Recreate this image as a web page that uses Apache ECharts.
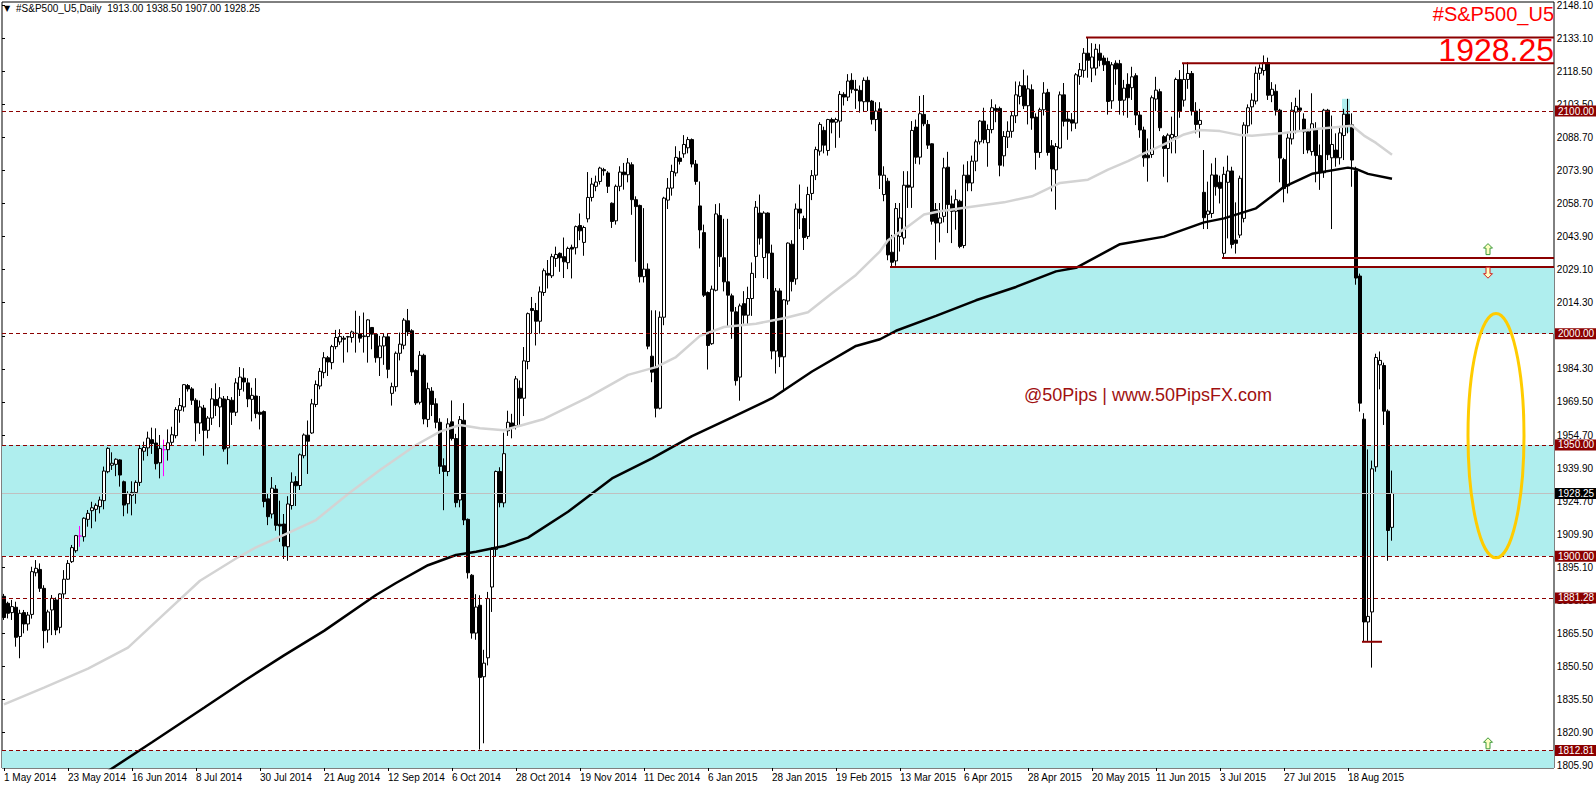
<!DOCTYPE html>
<html>
<head>
<meta charset="utf-8">
<title>#S&amp;P500_U5,Daily</title>
<script src="https://cdn.jsdelivr.net/npm/echarts@6.0.0/dist/echarts.min.js"></script>
<style>
  html, body { margin: 0; padding: 0; background: #fff; }
  #chart { width: 1596px; height: 786px; }
</style>
</head>
<body>
<div id="chart"></div>
<script>
// daily bars 1 May 2014 .. 2 Sep 2015
const opens = [
  1882.0,1878.9,1874.7,1877.1,1864.0,1874.7,1869.6,1873.9,1892.6,1894.1,
  1885.6,1866.9,1875.9,1880.4,1868.1,1883.1,1889.7,1897.6,1902.5,1909.1,
  1908.8,1916.6,1920.5,1921.1,1922.3,1925.0,1938.0,1940.9,1941.3,1943.3,
  1933.5,1923.6,1927.4,1928.7,1933.2,1947.2,1948.7,1952.4,1950.9,1942.0,
  1947.9,1947.9,1951.2,1954.2,1965.6,1967.1,1976.7,1975.2,1970.1,1959.9,
  1966.6,1956.6,1962.1,1970.4,1967.1,1970.7,1948.7,1970.1,1964.7,1975.0,
  1980.1,1977.9,1970.5,1972.0,1964.7,1965.0,1925.8,1919.0,1930.2,1914.4,
  1914.5,1904.3,1922.8,1933.6,1931.8,1945.2,1954.4,1955.4,1968.2,1976.5,
  1982.5,1989.2,1987.0,1994.2,1996.3,1998.0,1998.5,1998.3,2000.2,2000.0,
  1998.7,1998.7,2002.8,1999.8,1989.2,1994.5,1998.6,1973.2,1976.2,1991.2,
  1994.8,2005.8,2001.3,1983.5,1969.2,1990.3,1961.5,1974.2,1968.5,1960.2,
  1940.7,1938.1,1960.4,1952.9,1925.3,1961.1,1916.6,1891.5,1865.5,1878.0,
  1845.9,1854.4,1886.2,1903.1,1938.1,1924.0,1956.4,1959.9,1958.6,1975.5,
  1971.0,1987.5,2011.3,2010.4,2005.6,2018.5,2027.1,2026.0,2033.8,2036.1,
  2034.6,2031.9,2038.8,2038.6,2048.6,2041.0,2051.6,2061.2,2066.2,2068.4,
  2073.7,2072.2,2058.6,2050.7,2066.2,2072.6,2071.4,2075.9,2060.2,2057.6,
  2025.6,2029.0,1989.9,1984.5,1966.5,2007.4,2060.0,2065.4,2072.2,2078.9,
  2080.8,2083.5,2087.2,2076.2,2057.4,2045.4,2018.5,1995.5,2019.5,2053.1,
  2034.1,2023.3,2017.0,2009.8,1980.5,2013.5,2008.3,2015.8,2034.7,2054.2,
  2034.2,2054.2,2036.2,1992.2,2019.2,1989.6,2014.7,2040.2,2024.6,2056.0,
  2051.7,2043.7,2063.0,2071.2,2082.0,2091.3,2082.3,2096.2,2095.0,2095.5,
  2107.5,2106.3,2113.8,2109.8,2109.3,2104.2,2113.8,2104.5,2096.2,2101.0,
  2062.5,2068.5,2036.6,2032.7,2043.7,2043.0,2066.7,2065.8,2092.8,2079.3,
  2098.5,2094.0,2085.3,2055.7,2049.7,2052.7,2074.8,2058.3,2055.0,2059.5,
  2039.6,2071.2,2067.7,2077.5,2086.2,2095.5,2085.8,2091.7,2101.2,2101.2,
  2079.9,2088.3,2090.9,2097.9,2106.6,2111.4,2102.4,2109.6,2097.3,2081.4,
  2100.6,2108.4,2084.4,2073.6,2083.4,2107.3,2096.4,2096.1,2094.6,2115.6,
  2118.3,2126.0,2119.3,2119.3,2126.0,2123.8,2122.3,2104.6,2121.5,2121.3,
  2104.9,2112.0,2110.5,2115.9,2098.2,2091.5,2080.2,2080.5,2105.4,2108.7,
  2088.5,2083.2,2088.0,2088.5,2114.2,2104.9,2114.2,2116.9,2100.0,2094.0,
  2063.5,2053.6,2054.0,2071.3,2068.0,2036.1,2068.0,2073.1,2042.1,2044.3,
  2051.8,2093.4,2101.9,2104.5,2117.0,2118.2,2121.8,2107.1,2108.9,2100.4,
  2078.2,2066.4,2087.5,2099.6,2101.4,2096.4,2090.7,2081.8,2092.0,2080.0,
  2072.3,2100.4,2079.0,2082.5,2079.0,2089.0,2098.6,2093.8,2073.2,2025.9,
  1961.6,1870.5,1875.0,1940.2,1986.0,1985.7,1965.2,1913.0
];
const highs = [
  1883.1,1879.6,1880.4,1879.6,1876.0,1875.9,1875.0,1895.3,1898.3,1896.8,
  1887.0,1876.0,1882.6,1881.5,1883.4,1893.8,1898.3,1905.1,1909.6,1913.6,
  1917.5,1920.8,1924.5,1923.8,1926.8,1940.3,1949.0,1946.7,1944.0,1943.6,
  1934.0,1929.2,1933.7,1934.1,1950.0,1951.5,1956.0,1957.8,1957.5,1954.5,
  1952.4,1957.0,1958.2,1967.0,1971.1,1977.4,1977.4,1976.0,1971.0,1970.0,
  1968.0,1963.0,1975.5,1977.7,1976.0,1972.0,1972.0,1971.5,1980.0,1985.0,
  1984.5,1980.0,1975.7,1980.0,1972.0,1965.5,1928.3,1935.6,1932.0,1925.0,
  1919.0,1927.0,1937.7,1936.0,1946.2,1955.2,1961.0,1970.7,1979.0,1984.6,
  1991.7,1990.0,1995.0,2001.7,2002.0,1999.0,1999.0,2001.4,2010.3,2008.0,
  2009.5,2006.5,2003.0,2000.0,1999.0,2000.0,2000.0,1978.0,1992.0,2000.5,
  2007.0,2011.1,2002.0,1984.0,1992.2,1991.0,1978.0,1976.0,1971.0,1962.0,
  1944.0,1962.0,1970.0,1955.0,1963.0,1968.8,1917.0,1892.0,1883.0,1882.5,
  1858.0,1884.0,1904.0,1938.5,1940.0,1955.5,1965.4,1964.0,1981.0,1979.0,
  1994.0,2009.5,2016.5,2013.8,2021.2,2029.3,2033.1,2035.9,2039.1,2036.5,
  2043.2,2039.1,2040.0,2048.6,2054.0,2048.5,2072.6,2070.0,2071.0,2075.0,
  2074.5,2073.0,2059.0,2067.0,2075.2,2076.7,2078.9,2077.0,2061.7,2058.0,
  2056.4,2031.6,2010.5,2010.5,2010.0,2061.5,2069.9,2075.9,2084.2,2082.0,
  2089.2,2088.4,2087.7,2078.0,2068.4,2049.0,2019.0,2021.6,2058.2,2058.6,
  2051.6,2051.6,2018.0,2012.0,2013.5,2019.1,2021.1,2032.0,2059.6,2062.5,
  2055.0,2054.5,2040.0,2020.5,2020.4,2015.5,2041.0,2042.0,2058.5,2067.0,
  2053.0,2066.0,2073.5,2084.0,2095.0,2093.0,2096.5,2097.0,2097.0,2109.0,
  2108.5,2116.6,2117.0,2114.0,2111.5,2115.1,2115.5,2105.0,2104.0,2104.0,
  2075.2,2070.0,2044.4,2058.7,2058.7,2073.0,2073.0,2095.5,2096.2,2106.8,
  2107.2,2096.0,2085.5,2058.7,2058.7,2079.0,2081.7,2062.0,2064.7,2060.2,
  2076.0,2077.5,2080.0,2087.2,2096.0,2101.5,2094.0,2105.3,2103.0,2102.0,
  2091.0,2095.4,2099.9,2113.3,2113.3,2118.6,2116.0,2112.0,2099.0,2101.5,
  2113.0,2110.0,2087.0,2085.6,2108.8,2112.6,2100.0,2099.1,2117.1,2121.6,
  2128.3,2133.2,2130.5,2130.2,2130.0,2125.0,2124.0,2122.0,2122.8,2123.0,
  2114.0,2117.0,2119.9,2117.0,2100.0,2093.0,2087.7,2107.0,2115.4,2110.0,
  2089.2,2090.0,2097.5,2115.0,2118.4,2121.4,2121.9,2118.0,2104.0,2101.0,
  2082.5,2068.3,2076.5,2079.0,2071.0,2075.0,2080.0,2075.0,2059.0,2071.0,
  2095.0,2103.0,2108.0,2120.0,2121.0,2125.0,2124.0,2113.0,2112.0,2101.0,
  2079.0,2090.0,2104.0,2106.0,2109.6,2099.0,2092.0,2108.0,2095.0,2085.0,
  2101.0,2101.0,2098.0,2090.0,2093.0,2101.0,2105.5,2099.0,2075.0,2027.0,
  1964.3,1948.0,1943.0,1991.0,1992.0,1987.0,1966.0,1938.5
];
const lows = [
  1871.4,1872.1,1871.4,1859.4,1854.2,1865.4,1866.6,1872.0,1891.0,1884.0,
  1858.7,1861.2,1864.6,1864.6,1865.4,1881.0,1889.4,1897.0,1901.6,1904.3,
  1906.6,1913.3,1912.6,1915.6,1919.3,1921.1,1937.3,1938.8,1936.0,1931.3,
  1918.0,1919.2,1918.4,1923.6,1931.6,1943.0,1945.0,1946.0,1939.0,1935.0,
  1936.0,1943.0,1949.6,1953.0,1960.0,1965.0,1974.0,1968.0,1951.6,1955.0,
  1945.2,1953.0,1959.0,1963.0,1958.0,1947.0,1941.3,1959.0,1963.0,1972.0,
  1974.0,1967.0,1960.6,1962.0,1957.0,1922.0,1914.0,1917.0,1911.5,1906.5,
  1898.8,1898.0,1921.0,1922.6,1929.8,1944.0,1937.0,1955.0,1967.0,1975.0,
  1980.0,1981.0,1984.0,1993.0,1995.0,1987.0,1991.6,1996.0,1991.5,1996.0,
  1991.5,1987.0,1993.0,1987.0,1981.0,1986.0,1980.0,1967.7,1974.0,1988.0,
  1993.0,1999.0,1981.0,1968.0,1968.2,1959.3,1958.0,1963.0,1957.5,1937.0,
  1920.7,1936.0,1952.0,1922.0,1922.0,1914.0,1890.0,1863.0,1862.5,1813.2,
  1816.0,1851.0,1875.0,1900.0,1922.0,1922.0,1954.1,1953.0,1957.0,1958.6,
  1963.0,1984.0,2000.0,1994.7,2000.0,2017.0,2020.3,2025.0,2030.0,2027.8,
  2025.0,2029.0,2024.8,2035.6,2042.0,2035.0,2050.0,2059.4,2064.0,2067.0,
  2071.0,2063.2,2047.5,2049.0,2064.0,2064.7,2068.0,2053.4,2032.3,2023.0,
  2023.0,1993.0,1978.2,1962.4,1966.0,2003.8,2056.0,2062.0,2070.7,2076.0,
  2079.0,2081.0,2074.7,2066.9,2038.3,2016.5,1983.9,1995.0,2019.0,2030.0,
  2019.0,2003.3,1997.7,1976.7,1969.9,2004.5,2004.0,2008.0,2025.0,2040.0,
  2025.0,2024.5,1988.5,1982.1,1985.0,1973.9,2013.0,2019.0,2022.0,2047.0,
  2037.6,2042.5,2060.0,2069.0,2080.0,2081.0,2080.0,2090.0,2083.5,2088.0,
  2102.5,2104.5,2108.0,2101.0,2099.3,2100.0,2100.0,2094.0,2091.0,2065.0,
  2059.5,2033.0,2030.0,2030.5,2036.9,2040.0,2056.5,2056.5,2076.3,2076.0,
  2093.2,2083.0,2049.0,2033.2,2041.0,2050.0,2045.2,2040.7,2046.7,2038.4,
  2038.4,2064.0,2064.0,2073.0,2085.0,2085.5,2075.0,2090.0,2095.0,2070.7,
  2075.1,2083.4,2088.0,2094.6,2103.0,2100.9,2094.0,2091.6,2073.7,2079.0,
  2098.0,2080.0,2063.9,2055.7,2083.0,2093.1,2087.1,2090.9,2092.0,2111.8,
  2115.0,2115.0,2113.0,2116.0,2120.1,2118.0,2098.4,2101.0,2111.8,2098.4,
  2098.0,2097.0,2105.0,2093.7,2088.0,2075.0,2068.3,2079.0,2100.0,2091.0,
  2070.5,2068.0,2081.0,2081.0,2097.0,2102.0,2110.0,2098.0,2090.0,2088.0,
  2047.0,2047.0,2052.0,2062.0,2058.5,2034.0,2042.8,2038.3,2036.0,2043.0,
  2050.0,2090.0,2094.0,2103.0,2114.0,2116.0,2105.0,2104.0,2098.0,2068.0,
  2059.0,2063.0,2085.0,2090.0,2091.0,2080.7,2081.0,2080.0,2068.0,2064.6,
  2070.0,2078.0,2047.0,2075.0,2076.0,2078.0,2090.0,2066.0,2022.0,1965.0,
  1861.6,1862.0,1850.0,1938.0,1975.0,1959.0,1898.0,1907.0
];
const closes = [
  1872.5,1874.4,1877.4,1863.6,1874.4,1869.6,1873.6,1893.1,1894.6,1885.6,
  1866.6,1875.0,1881.1,1866.9,1883.1,1889.7,1896.8,1903.9,1909.3,1909.1,
  1917.1,1919.3,1921.8,1922.9,1925.3,1938.3,1948.5,1941.8,1943.6,1936.5,
  1923.0,1928.1,1928.7,1933.2,1948.4,1948.9,1953.1,1950.6,1941.6,1948.4,
  1947.9,1951.0,1954.6,1965.9,1967.7,1977.1,1975.2,1970.1,1959.9,1967.1,
  1956.6,1962.1,1970.7,1967.7,1971.1,1948.2,1970.4,1964.7,1977.9,1980.5,
  1978.3,1970.7,1972.3,1964.1,1963.8,1924.6,1917.8,1930.6,1913.9,1913.6,
  1904.6,1923.5,1933.3,1931.7,1945.6,1954.5,1951.7,1968.5,1977.2,1983.1,
  1989.2,1987.3,1994.2,1998.3,1998.7,1997.5,1998.7,2000.8,2000.1,1998.0,
  1999.0,2006.2,1999.8,1989.2,1994.5,1998.6,1984.0,1976.2,1991.2,1995.3,
  2006.1,2000.8,1982.8,1968.9,1990.3,1961.7,1975.3,1968.2,1960.2,1940.4,
  1938.1,1959.5,1952.9,1924.1,1961.4,1916.3,1892.6,1865.5,1877.2,1845.6,
  1852.0,1881.0,1903.1,1938.1,1924.1,1946.1,1960.2,1957.4,1979.7,1971.0,
  1987.8,2009.0,2010.4,2005.6,2018.8,2028.3,2026.3,2034.6,2035.6,2034.1,
  2032.3,2038.3,2038.0,2048.1,2046.2,2047.7,2061.2,2067.2,2068.1,2074.4,
  2073.2,2066.2,2050.4,2066.2,2072.6,2071.4,2076.7,2060.2,2057.1,2025.6,
  2029.0,1994.4,1982.7,1966.5,2007.4,2060.9,2065.4,2072.9,2079.2,2077.4,
  2085.0,2087.2,2076.2,2068.4,2046.6,2017.3,1994.7,2020.0,2053.8,2034.6,
  2023.3,2017.3,2010.1,1978.9,2012.5,2008.3,2015.8,2027.1,2056.8,2042.9,
  2054.2,2036.2,1992.2,2019.2,1989.6,2015.2,2040.7,2023.4,2056.0,2054.2,
  2043.2,2062.5,2071.0,2082.7,2094.0,2084.7,2096.2,2095.0,2096.2,2107.5,
  2106.3,2113.5,2109.8,2109.3,2104.5,2113.8,2104.2,2096.2,2100.0,2071.2,
  2071.2,2035.4,2032.1,2056.2,2052.0,2066.7,2065.8,2091.3,2079.3,2098.8,
  2094.3,2084.7,2050.5,2049.7,2052.0,2074.5,2058.0,2055.0,2060.2,2039.2,
  2071.2,2067.7,2077.5,2086.2,2095.5,2087.2,2091.7,2101.5,2100.3,2075.7,
  2088.6,2090.9,2097.9,2107.3,2111.4,2102.4,2110.0,2096.9,2081.4,2100.6,
  2108.1,2081.4,2074.0,2084.1,2107.3,2095.4,2095.4,2094.6,2116.3,2118.6,
  2126.0,2122.8,2124.3,2127.8,2122.8,2120.8,2104.3,2120.8,2118.9,2104.8,
  2110.3,2106.0,2115.4,2098.2,2091.5,2079.0,2079.0,2106.0,2109.4,2092.5,
  2083.2,2089.2,2089.5,2114.2,2100.0,2114.2,2116.9,2100.0,2094.0,2095.8,
  2052.1,2055.1,2071.3,2066.0,2065.3,2071.6,2073.1,2040.1,2040.6,2069.8,
  2093.7,2101.5,2104.9,2117.0,2119.3,2121.8,2107.1,2109.8,2100.4,2078.9,
  2065.2,2087.9,2100.4,2102.1,2100.4,2090.7,2082.5,2094.3,2080.0,2072.3,
  2100.4,2080.4,2085.0,2079.0,2090.2,2098.6,2093.8,2078.0,2025.0,1968.8,
  1870.5,1873.0,1939.3,1989.3,1988.0,1965.2,1911.6,1928.25
];
const magentaBars = [19, 40];

// moving averages, points: [bar, price]
const maBlack = [
  [26,1803.5],[37,1816.5],[50,1832],[60,1844],[70,1855.5],[80,1866.5],[93,1882.6],[98,1888],
  [106,1896],[113,1900.6],[118,1902],[125,1904.6],[131,1908.4],[141,1920],[152,1935],[162,1944],
  [172,1954],[182,1962.4],[192,1971],[202,1983],[213,1994.5],[219,1997.5],[223,2001.3],[233,2008],
  [243,2015],[253,2021],[263,2028],[268,2029.6],[279,2040.2],[290,2043.6],[300,2050],[305,2051.8],
  [313,2056.3],[320,2066],[327,2071.8],[336,2074.6],[338,2074],[341,2071.8],[347,2069.6]
];
const maGray = [
  [0,1833.5],[10,1841],[21,1849.5],[31,1859],[40,1874],[49,1889],[58,1899],[63,1904],[70,1909.6],
  [78,1916.3],[86,1928],[94,1938.8],[103,1950],[109,1956],[114,1959],[119,1957.5],[125,1956.6],
  [135,1961.7],[146,1971.4],[156,1981.5],[163,1985],[168,1989.5],[174,1999],[180,2003],[188,2004.5],
  [195,2006.9],[201,2009.6],[207,2018.2],[213,2026.4],[219,2037],[221,2042],[226,2048.2],[230,2053.5],
  [234,2055],[241,2056.8],[250,2059],[257,2061.7],[264,2067.7],[271,2069.2],[276,2073.7],[281,2077.5],
  [285,2081],[290,2085],[295,2089.5],[299,2091.5],[304,2091],[309,2089.2],[312,2088.9],[320,2090.2],
  [328,2092],[337,2093.4],[340,2089],[343,2085.7],[347,2080.4]
];

// right scale labels, bottom to top
const yTickLabels = ['1805.90','1820.90','1835.50','1850.50','1865.50','1880.30','1895.10','1909.90',
  '1924.70','1939.90','1954.70','1969.50','1984.30','1999.30','2014.30','2029.10','2043.90','2058.70',
  '2073.90','2088.70','2103.50','2118.50','2133.10','2148.10'];

// chart objects: zones [fromBar, toBar, low, high], levels [fromBar, toBar, price]
const zones = [[0, 387, 1900, 1950], [0, 387, 1790, 1812.81], [222, 387, 2000, 2030], [335, 336, 2090.5, 2105.5]];
const levels = [[271, 387, 2133.0], [295, 387, 2121.5], [305, 387, 2034.0], [222, 387, 2030.0], [340, 344, 1861.6]];
const dashLevels = [2100, 2000, 1950, 1900, 1881.28, 1812.81];
const arrows = [[371, 2038.0, 1], [371, 2027.4, -1], [371, 1816.0, 1]];
const arrowColors = ['#3C9A3C', '#D22020', '#3C9A3C'];
// ellipse: centre bar, centre price, half width in bars, half height in points
const ellipses = [[372.5, 1954.2, 7, 54.9]];
const notePos = [[285.5, 1972.5]];
const noteText = '@50Pips | www.50PipsFX.com';

const symbolName = '#S&P500_U5';
const FONT = '"Liberation Sans", Arial, sans-serif';
const MAROON = '#8B0000';

const skipDays = ['2014-12-25', '2015-01-01'];
function buildDates(n) {
  const mon = ['Jan','Feb','Mar','Apr','May','Jun','Jul','Aug','Sep','Oct','Nov','Dec'];
  const out = [];
  const d = new Date(Date.UTC(2014, 4, 1));
  while (out.length < n) {
    const wd = d.getUTCDay();
    const iso = d.toISOString().slice(0, 10);
    if (wd !== 0 && wd !== 6 && skipDays.indexOf(iso) < 0) {
      out.push(d.getUTCDate() + ' ' + mon[d.getUTCMonth()] + ' ' + d.getUTCFullYear());
    }
    d.setUTCDate(d.getUTCDate() + 1);
  }
  return out;
}

const nBars = closes.length;
const categories = buildDates(nBars).concat(new Array(388 - nBars).fill(''));
const candles = closes.map(function (c, i) {
  const item = { value: [opens[i], c, lows[i], highs[i]] };
  if (magentaBars.indexOf(i) >= 0) {
    item.itemStyle = { color: '#FF00FF', color0: '#FF00FF', borderColor: '#FF00FF', borderColor0: '#FF00FF', borderColorDoji: '#FF00FF' };
  }
  return item;
});
const last = nBars - 1;
const header = symbolName + ',Daily  ' + [opens[last], highs[last], lows[last], closes[last]].map(function (v) { return v.toFixed(2); }).join(' ');

const chart = echarts.init(document.getElementById('chart'), null, { renderer: 'svg' });

const option = {
  animation: false,
  backgroundColor: '#fff',
  textStyle: { fontFamily: FONT },
  title: [
    { text: '▼', left: 4, top: 4, padding: 0, textStyle: { fontSize: 8, fontWeight: 'normal', color: '#000', fontFamily: 'DejaVu Sans' } },
    { text: header, left: 16, top: 3, padding: 0, textStyle: { fontSize: 10, fontWeight: 'normal', color: '#000', fontFamily: FONT } },
    { text: symbolName, right: 42, top: 4, padding: 0, textStyle: { fontSize: 20, fontWeight: 'normal', color: '#FF0000', fontFamily: FONT } },
    { text: closes[last].toFixed(2), right: 42, top: 34, padding: 0, textStyle: { fontSize: 32, fontWeight: 'normal', color: '#FF0000', fontFamily: FONT } }
  ],
  grid: [
    { left: 2, top: 2, width: 1552, height: 766, show: true, borderColor: '#000', borderWidth: 1, backgroundColor: 'transparent' },
    { left: 2, top: 4, width: 1552, height: 761.8, show: false }
  ],
  xAxis: [
    {
      type: 'category', gridIndex: 0, data: categories, boundaryGap: true,
      axisLine: { show: false },
      axisTick: { show: true, alignWithLabel: true, length: 3, lineStyle: { color: '#000' },
        interval: function (i) { return i % 16 === 0 && i < nBars; } },
      axisLabel: { show: true, align: 'left', margin: 4, fontSize: 10, color: '#000', fontFamily: FONT,
        interval: function (i) { return i % 16 === 0 && i < nBars; } },
      splitLine: { show: false }
    },
    { type: 'value', gridIndex: 1, min: 0, max: 1, show: false }
  ],
  yAxis: [
    { type: 'value', gridIndex: 0, min: 1804.9, max: 2149.0, show: false, splitLine: { show: false } },
    {
      type: 'value', gridIndex: 1, position: 'right', min: 0, max: 23, interval: 1,
      axisLine: { show: false },
      axisTick: { show: true, length: 3, inside: false, lineStyle: { color: '#000' } },
      axisLabel: { margin: 4, fontSize: 10, lineHeight: 10, color: '#000', fontFamily: FONT,
        formatter: function (v) { const k = Math.round(v); return Math.abs(v - k) < 1e-6 ? yTickLabels[k] : ''; } },
      splitLine: { show: false }
    }
  ],
  series: [
    {
      name: 'zones', type: 'custom', xAxisIndex: 0, yAxisIndex: 0, z: 1, silent: true,
      data: zones,
      encode: { x: [0, 1], y: [2, 3] },
      renderItem: function (params, api) {
        const half = api.size([1, 0])[0] / 2;
        const a = api.coord([api.value(0), api.value(3)]);
        const b = api.coord([api.value(1), api.value(2)]);
        const cs = params.coordSys;
        const x0 = Math.max(a[0] - half, cs.x), x1 = Math.min(b[0] + half, cs.x + cs.width);
        const y0 = Math.max(a[1], cs.y), y1 = Math.min(b[1], cs.y + cs.height);
        return { type: 'rect', shape: { x: x0, y: y0, width: x1 - x0, height: y1 - y0 },
          style: { fill: '#AFEEEE' } };
      }
    },
    { type: 'scatter', xAxisIndex: 1, yAxisIndex: 1, data: [], silent: true },
    {
      name: 'price', type: 'candlestick', xAxisIndex: 0, yAxisIndex: 0, z: 3,
      data: candles, barWidth: 3,
      itemStyle: { color: '#FFFFFF', color0: '#000000', borderColor: '#000000', borderColor0: '#000000', borderColorDoji: '#000000', borderWidth: 1 },
      markLine: {
        silent: true, symbol: ['none', 'none'], precision: 2,
        label: { show: true, position: 'end', distance: 1, fontSize: 10, lineHeight: 10, fontFamily: FONT, color: '#fff',
          backgroundColor: MAROON, padding: [1, 3, 0, 3],
          formatter: function (p) { return Number(p.value).toFixed(2); } },
        data: dashLevels.map(function (v) {
          return { yAxis: v, lineStyle: { color: MAROON, type: [4, 3], width: 1 } };
        }).concat([{
          yAxis: closes[last], lineStyle: { color: '#C0C0C0', type: 'solid', width: 1 },
          label: { backgroundColor: '#000' }
        }])
      }
    },
    {
      name: 'ma slow', type: 'line', xAxisIndex: 0, yAxisIndex: 0, z: 4, data: maBlack,
      showSymbol: false, symbol: 'none', silent: true, lineStyle: { color: '#000', width: 2.5 }
    },
    {
      name: 'ma fast', type: 'line', xAxisIndex: 0, yAxisIndex: 0, z: 4, data: maGray,
      showSymbol: false, symbol: 'none', silent: true, lineStyle: { color: '#D3D3D3', width: 2.5 }
    },
    {
      name: 'levels', type: 'custom', xAxisIndex: 0, yAxisIndex: 0, z: 5, silent: true,
      data: levels, encode: { x: [0, 1], y: 2 },
      renderItem: function (params, api) {
        const half = api.size([1, 0])[0] / 2;
        const a = api.coord([api.value(0), api.value(2)]);
        const b = api.coord([api.value(1), api.value(2)]);
        const xr = Math.min(b[0] + half, params.coordSys.x + params.coordSys.width);
        return { type: 'line', shape: { x1: a[0] - half, y1: a[1], x2: xr, y2: b[1] },
          style: { stroke: MAROON, lineWidth: 2 } };
      }
    },
    {
      name: 'ellipse', type: 'custom', xAxisIndex: 0, yAxisIndex: 0, z: 6, silent: true,
      data: ellipses, encode: { x: 0, y: 1 },
      renderItem: function (params, api) {
        const c = api.coord([api.value(0), api.value(1)]);
        const rx = api.size([1, 0])[0] * api.value(2);
        const ry = api.size([0, api.value(3)])[1];
        return { type: 'ellipse', shape: { cx: c[0], cy: c[1], rx: rx, ry: ry },
          style: { fill: 'none', stroke: '#FFCC00', lineWidth: 3 } };
      }
    },
    {
      name: 'arrows', type: 'custom', xAxisIndex: 0, yAxisIndex: 0, z: 6, silent: true,
      data: arrows, encode: { x: 0, y: 1 },
      renderItem: function (params, api) {
        const c = api.coord([api.value(0), api.value(1)]);
        const s = api.value(2);
        const pts = [[0, -5.5], [4.5, -1], [2, -1], [2, 5.5], [-2, 5.5], [-2, -1], [-4.5, -1]].map(function (p) {
          return [c[0] + p[0], c[1] + p[1] * s];
        });
        return { type: 'polygon', shape: { points: pts },
          style: { fill: '#FFFFC0', stroke: arrowColors[params.dataIndex], lineWidth: 1 } };
      }
    },
    {
      name: 'note', type: 'custom', xAxisIndex: 0, yAxisIndex: 0, z: 6, silent: true,
      data: notePos, encode: { x: 0, y: 1 },
      renderItem: function (params, api) {
        const c = api.coord([api.value(0), api.value(1)]);
        return { type: 'text', x: c[0], y: c[1],
          style: { text: noteText, fill: '#A01010', fontSize: 18, fontFamily: FONT, align: 'center', verticalAlign: 'middle' } };
      }
    }
  ]
};

chart.setOption(option);
</script>
</body>
</html>
